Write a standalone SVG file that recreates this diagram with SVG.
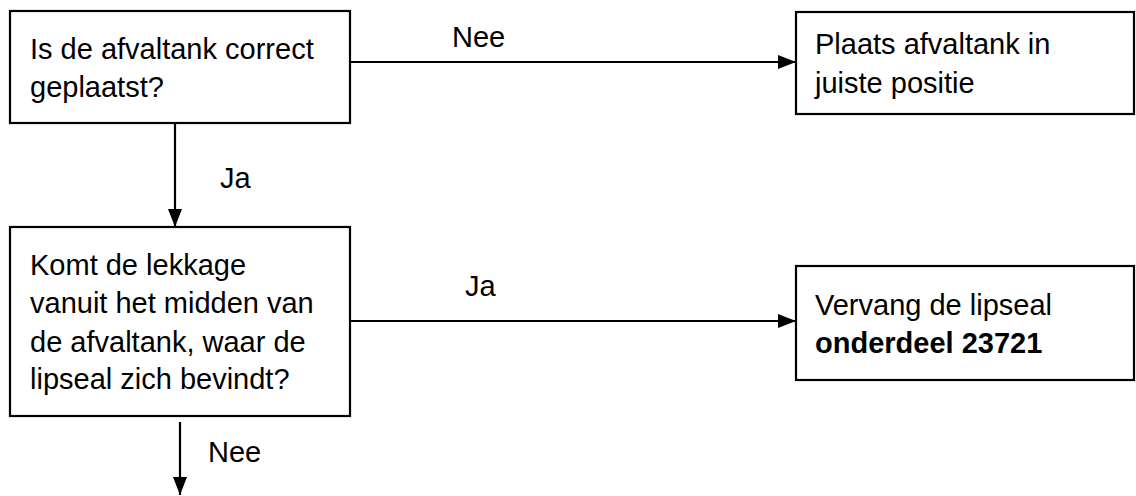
<svg xmlns="http://www.w3.org/2000/svg" width="1136" height="496" viewBox="0 0 1136 496">
  <style>
    .box { fill: #ffffff; stroke: #000000; stroke-width: 2.2; }
    .txt { font-family: "Liberation Sans", Arial, sans-serif; font-size: 29px; fill: #000000; }
    .bold { font-weight: bold; }
    .conn { stroke: #000000; stroke-width: 2.2; fill: none; marker-end: url(#arrow); }
  </style>
  <defs>
    <marker id="arrow" markerUnits="userSpaceOnUse" markerWidth="20" markerHeight="16" refX="18" refY="8" orient="auto">
      <path d="M0,1 L18,8 L0,15 z" fill="#000000"/>
    </marker>
  </defs>
  <rect width="1136" height="496" fill="#ffffff"/>
  <g id="connectors">
    <line class="conn" x1="350" y1="62" x2="796" y2="62"/>
    <line class="conn" x1="175" y1="124" x2="175" y2="227"/>
    <line class="conn" x1="350" y1="321" x2="796" y2="321"/>
    <line class="conn" x1="180" y1="422" x2="180" y2="495"/>
    <text class="txt" x="452" y="47">Nee</text>
    <text class="txt" x="220" y="188">Ja</text>
    <text class="txt" x="465" y="296">Ja</text>
    <text class="txt" x="208" y="462">Nee</text>
  </g>
  <g id="q1">
    <rect class="box" x="10" y="11" width="340" height="112"/>
    <text class="txt" x="30" y="59">Is de afvaltank correct</text>
    <text class="txt" x="30" y="97">geplaatst?</text>
  </g>
  <g id="a1">
    <rect class="box" x="796" y="12" width="338" height="102"/>
    <text class="txt" x="815" y="54">Plaats afvaltank in</text>
    <text class="txt" x="815" y="93">juiste positie</text>
  </g>
  <g id="q2">
    <rect class="box" x="10" y="227" width="340" height="189"/>
    <text class="txt" x="30" y="275">Komt de lekkage</text>
    <text class="txt" x="30" y="313">vanuit het midden van</text>
    <text class="txt" x="30" y="352">de afvaltank, waar de</text>
    <text class="txt" x="30" y="389">lipseal zich bevindt?</text>
  </g>
  <g id="a2">
    <rect class="box" x="796" y="266" width="338" height="114"/>
    <text class="txt" x="815" y="315">Vervang de lipseal</text>
    <text class="txt bold" x="815" y="353">onderdeel 23721</text>
  </g>
</svg>
